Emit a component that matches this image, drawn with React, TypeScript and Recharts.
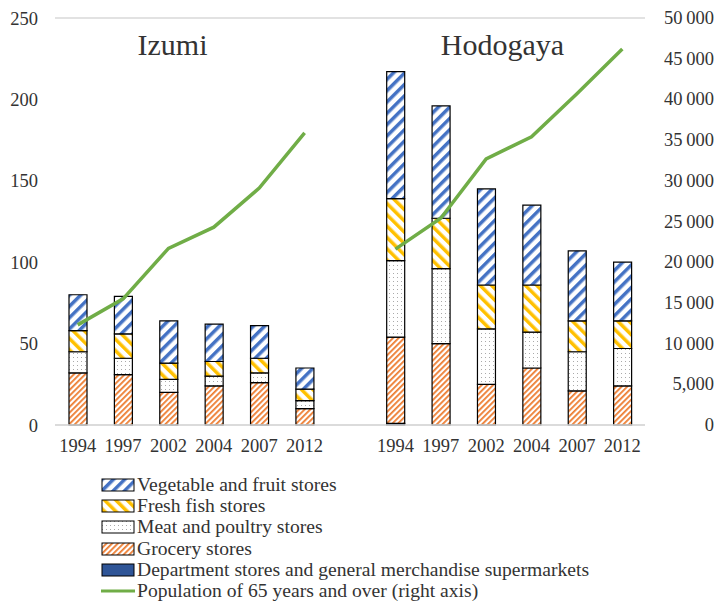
import React from "react";
import {
  Bar,
  CartesianGrid,
  ComposedChart,
  Line,
  XAxis,
  YAxis,
} from "recharts";

const years = ["1994", "1997", "2002", "2004", "2007", "2012"];

// Izumi
const izumiDept = [null, null, null, null, null, null];
const izumiGrocery = [32, 31, 20, 24, 26, 10];
const izumiMeat = [13, 10, 8, 6, 6, 5];
const izumiFish = [13, 15, 10, 9, 9, 7];
const izumiVeg = [22, 23, 26, 23, 20, 13];
const izumiPop = [12300, 15500, 21700, 24300, 29100, 35900];

// Hodogaya
const hodoDept = [1, null, null, null, null, null];
const hodoGrocery = [53, 50, 25, 35, 21, 24];
const hodoMeat = [47, 46, 34, 22, 24, 23];
const hodoFish = [38, 31, 27, 29, 19, 17];
const hodoVeg = [78, 69, 59, 49, 43, 36];
const hodoPop = [21600, 25400, 32700, 35400, 40700, 46200];

const leftTicks = [0, 50, 100, 150, 200, 250];
const rightTicks = [0, 5000, 10000, 15000, 20000, 25000, 30000, 35000, 40000, 45000, 50000];
const rightTickLabels = ["0", "5,000", "10\u2009000", "15\u2009000", "20\u2009000", "25\u2009000", "30\u2009000", "35\u2009000", "40\u2009000", "45\u2009000", "50\u2009000"];

const legendItems = [
  { label: "Vegetable and fruit stores", fill: "url(#veg)" },
  { label: "Fresh fish stores", fill: "url(#fish)" },
  { label: "Meat and poultry stores", fill: "url(#meat)" },
  { label: "Grocery stores", fill: "url(#grocery)" },
  { label: "Department stores and general merchandise supermarkets", fill: "#2F5597" },
  { label: "Population of 65 years and over (right axis)", line: true },
];

const FONT = "'Liberation Serif', serif";
const TEXT = "#333";

const makeRows = (
  dept: (number | null)[],
  grocery: number[],
  meat: number[],
  fish: number[],
  veg: number[],
  pop: number[],
  prefix: string
) =>
  years.map((y, i) => ({
    key: prefix + y,
    year: y,
    dept: dept[i],
    grocery: grocery[i],
    meat: meat[i],
    fish: fish[i],
    veg: veg[i],
    pop: pop[i],
  }));

const data = [
  ...makeRows(izumiDept, izumiGrocery, izumiMeat, izumiFish, izumiVeg, izumiPop, "I"),
  { key: "gap", year: "", dept: null, grocery: null, meat: null, fish: null, veg: null, pop: null },
  ...makeRows(hodoDept, hodoGrocery, hodoMeat, hodoFish, hodoVeg, hodoPop, "H"),
];

const yearOf = (k: string) => (k === "gap" ? "" : k.slice(1));

const RightTick = (props: any) => {
  const { x, y, payload } = props;
  const idx = rightTicks.indexOf(payload.value);
  return (
    <text x={x} y={y} dx={67} dy={6} textAnchor="end" fontSize={18.5} fontFamily={FONT} fill={TEXT}>
      {rightTickLabels[idx]}
    </text>
  );
};

export default function App() {
  return (
    <div style={{ position: "absolute", left: 0, top: 0, width: 715, height: 602, background: "#fff", fontFamily: FONT }}>
      <ComposedChart
        width={715}
        height={470}
        data={data}
        margin={{ top: 18, right: 0, left: 0, bottom: 15 }}
        barSize={18}
      >
        <defs>
          <pattern id="veg" patternUnits="userSpaceOnUse" width="8" height="8" patternTransform="rotate(45)">
            <rect width="8" height="8" fill="#fff" />
            <rect width="3.5" height="8" fill="#4472C4" />
          </pattern>
          <pattern id="fish" patternUnits="userSpaceOnUse" width="8" height="8" patternTransform="rotate(-45)">
            <rect width="8" height="8" fill="#fff" />
            <rect width="3.5" height="8" fill="#FFC000" />
          </pattern>
          <pattern id="meat" patternUnits="userSpaceOnUse" width="4" height="4">
            <rect width="4" height="4" fill="#fff" />
            <rect x="1" y="1" width="1" height="1" fill="#aaa" />
          </pattern>
          <pattern id="grocery" patternUnits="userSpaceOnUse" width="4" height="4" patternTransform="rotate(45)">
            <rect width="4" height="4" fill="#fff" />
            <rect width="1.8" height="4" fill="#ED7D31" />
          </pattern>
        </defs>
        <CartesianGrid vertical={false} stroke="#d9d9d9" strokeWidth={1.5} />
        <XAxis
          dataKey="key"
          tickFormatter={yearOf}
          axisLine={{ stroke: "#d9d9d9", strokeWidth: 1.5 }}
          tickLine={false}
          height={30}
          tickMargin={8}
          interval={0}
          tick={{ fontSize: 18.5, fontFamily: FONT, fill: TEXT }}
        />
        <YAxis
          yAxisId="left"
          domain={[0, 250]}
          ticks={leftTicks}
          axisLine={false}
          tickLine={false}
          tickSize={0}
          tickMargin={17}
          width={55}
          tick={{ fontSize: 18.5, fontFamily: FONT, fill: TEXT }}
        />
        <YAxis
          yAxisId="right"
          orientation="right"
          domain={[0, 50000]}
          ticks={rightTicks}
          axisLine={false}
          tickLine={false}
          tickSize={0}
          width={70}
          tick={<RightTick />}
        />
        <Bar yAxisId="left" dataKey="dept" stackId="s" fill="#2F5597" stroke="#000" strokeWidth={1.2} isAnimationActive={false} />
        <Bar yAxisId="left" dataKey="grocery" stackId="s" fill="url(#grocery)" stroke="#000" strokeWidth={1.2} isAnimationActive={false} />
        <Bar yAxisId="left" dataKey="meat" stackId="s" fill="url(#meat)" stroke="#000" strokeWidth={1.2} isAnimationActive={false} />
        <Bar yAxisId="left" dataKey="fish" stackId="s" fill="url(#fish)" stroke="#000" strokeWidth={1.2} isAnimationActive={false} />
        <Bar yAxisId="left" dataKey="veg" stackId="s" fill="url(#veg)" stroke="#000" strokeWidth={1.2} isAnimationActive={false} />
        <Line
          yAxisId="right"
          dataKey="pop"
          stroke="#70AD47"
          strokeWidth={3.5}
          dot={false}
          activeDot={false}
          connectNulls={false}
          isAnimationActive={false}
        />
      </ComposedChart>

      <div style={{ position: "absolute", left: 0, width: 345, top: 29, textAlign: "center", fontSize: 30, lineHeight: "32px", color: TEXT }}>
        Izumi
      </div>
      <div style={{ position: "absolute", left: 330, width: 345, top: 29, textAlign: "center", fontSize: 30, lineHeight: "32px", color: TEXT }}>
        Hodogaya
      </div>

      <div style={{ position: "absolute", left: 101, top: 474 }}>
        {legendItems.map((item) => (
          <div key={item.label} style={{ display: "flex", alignItems: "center", height: 21.3, fontSize: 19.6, color: TEXT, whiteSpace: "nowrap" }}>
            <svg width={34} height={14} style={{ marginRight: 2 }}>
              {item.line ? (
                <line x1={0} y1={7} x2={34} y2={7} stroke="#70AD47" strokeWidth={3} />
              ) : (
                <rect x={1} y={1} width={32} height={12} fill={item.fill} stroke="#000" strokeWidth={1} />
              )}
            </svg>
            <span>{item.label}</span>
          </div>
        ))}
      </div>
    </div>
  );
}
